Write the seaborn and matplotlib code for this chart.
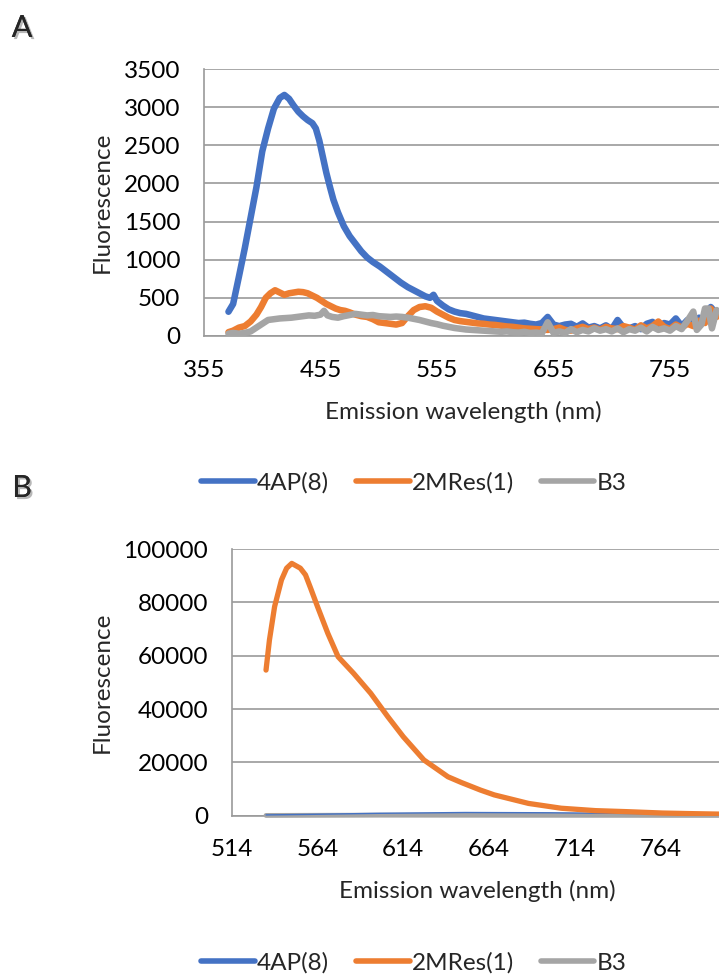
import matplotlib
matplotlib.use("Agg")
import matplotlib.pyplot as plt
import matplotlib.patheffects as pe
from matplotlib.lines import Line2D
import pandas as pd
import seaborn as sns

# ---- data ----
series_names = ["4AP(8)", "2MRes(1)", "B3"]
colors = ["#4472C4", "#ED7D31", "#A5A5A5"]

# Panel A: 4AP(8)
a_blue_x = [376, 380, 385, 390, 395, 400, 405, 410, 415, 420, 424, 428, 432, 436, 440,
            444, 448, 451, 454, 457, 460, 463, 466, 470, 475, 480, 485, 490, 495, 500,
            506, 512, 518, 524, 530, 535, 540, 545, 549, 552, 555, 560, 565, 570, 575,
            580, 585, 590, 595, 600, 605, 610, 615, 620, 625, 630, 635, 640, 645, 650,
            655, 660, 665, 670, 675, 680, 685, 690, 695, 700, 705, 710, 715, 720, 725,
            730, 735, 740, 745, 750, 755, 760, 765, 770, 775, 780, 785, 790, 795]
a_blue_y = [318, 420, 780, 1150, 1550, 1950, 2420, 2720, 2980, 3120, 3160, 3110, 3020, 2940, 2880,
            2830, 2790, 2720, 2560, 2350, 2140, 1960, 1790, 1620, 1440, 1310, 1210, 1110, 1030, 970,
            910, 840, 770, 700, 640, 600, 560, 520, 500, 540, 460, 400, 350, 320, 300,
            290, 270, 250, 230, 220, 210, 200, 190, 180, 170, 175, 160, 150, 170, 250,
            150, 130, 150, 160, 120, 165, 110, 130, 100, 140, 90, 210, 110, 100, 130,
            90, 160, 185, 110, 170, 150, 230, 130, 210, 180, 240, 200, 380, 290]

# Panel A: 2MRes(1)
a_orange_x = [376, 380, 385, 390, 395, 400, 404, 408, 412, 416, 420, 424, 428, 432, 436,
              440, 444, 448, 452, 456, 460, 464, 468, 472, 476, 480, 485, 490, 495, 500,
              505, 510, 515, 520, 525, 530, 535, 540, 545, 550, 555, 560, 565, 570, 575,
              580, 585, 590, 595, 600, 605, 610, 615, 620, 625, 630, 635, 640, 645, 650,
              655, 660, 665, 670, 675, 680, 685, 690, 695, 700, 705, 710, 715, 720, 725,
              730, 735, 740, 745, 750, 755, 760, 765, 770, 775, 780, 785, 790, 795]
a_orange_y = [50, 70, 110, 130, 190, 280, 380, 500, 560, 600, 570, 540, 560, 570, 580,
              575, 560, 530, 500, 460, 420, 390, 360, 340, 330, 310, 280, 260, 250, 220,
              180, 170, 160, 150, 170, 260, 340, 380, 390, 370, 320, 280, 240, 210, 195,
              185, 175, 165, 160, 150, 145, 135, 125, 120, 110, 100, 95, 90, 85, 80,
              90, 110, 80, 70, 100, 120, 90, 110, 80, 120, 100, 90, 130, 110, 80,
              140, 100, 130, 190, 120, 90, 150, 110, 160, 130, 200, 170, 360, 250]

# Panel A: B3
a_gray_x = [376, 380, 385, 390, 395, 400, 405, 410, 415, 420, 425, 430, 435, 440, 445,
            450, 455, 458, 461, 465, 470, 475, 480, 485, 490, 495, 500, 505, 510, 515,
            520, 525, 530, 535, 540, 545, 550, 555, 560, 565, 570, 575, 580, 585, 590,
            595, 600, 605, 610, 615, 620, 625, 630, 635, 640, 645, 650, 655, 660, 665,
            670, 675, 680, 685, 690, 695, 700, 705, 710, 715, 720, 725, 730, 735, 740,
            745, 750, 755, 760, 765, 770, 775, 778, 782, 785, 788, 791, 795]
a_gray_y = [30, 40, 30, 40, 60, 110, 160, 210, 220, 230, 235, 240, 250, 260, 270,
            265, 280, 330, 270, 250, 240, 260, 275, 290, 280, 270, 275, 260, 255, 250,
            255, 250, 240, 225, 210, 190, 170, 155, 135, 120, 105, 95, 85, 80, 75,
            70, 65, 60, 55, 60, 50, 45, 55, 40, 45, 35, 180, 40, 60, 40,
            90, 50, 80, 60, 100, 70, 90, 60, 100, 50, 90, 70, 110, 60, 120,
            80, 100, 70, 130, 90, 200, 320, 80, 150, 360, 360, 100, 340]

# Panel B: 2MRes(1)
b_orange_x = [534, 536, 539, 543, 546, 549, 554, 557, 560, 564, 570, 576, 585, 595, 605,
              614, 626, 640, 648, 659, 667, 687, 706, 726, 745, 765, 780, 798]
b_orange_y = [54600, 65900, 78400, 88400, 92800, 94600, 92800, 90300, 85300, 78400, 68400,
              59600, 53400, 45900, 37100, 29600, 20900, 14600, 12400, 9600, 7800, 4600,
              2800, 1900, 1500, 1000, 800, 600]

# Panel B: 4AP(8) and B3 (close to zero)
b_blue_x = [534, 560, 600, 650, 700, 750, 798]
b_blue_y = [300, 500, 900, 1200, 1100, 800, 600]
b_gray_x = [534, 600, 700, 798]
b_gray_y = [100, 200, 150, 100]

a_xticks = [355, 455, 555, 655, 755]
a_yticks = [0, 500, 1000, 1500, 2000, 2500, 3000, 3500]
b_xticks = [514, 564, 614, 664, 714, 764]
b_yticks = [0, 20000, 40000, 60000, 80000, 100000]

sns.set_style("white")
plt.rcParams["font.family"] = ["Lato", "DejaVu Sans"]

W, H = 719, 974
FS = 17.5
fig = plt.figure(figsize=(W / 100, H / 100), dpi=100)
grid_c = "#9a9a9a"


def make_df(xs, ys, name):
    return pd.DataFrame({"wavelength": xs, "value": ys, "series": name})


def style_axes(ax, xlim, ylim, xticks, yticks):
    ax.set_xlim(*xlim)
    ax.set_ylim(*ylim)
    ax.set_xticks(xticks)
    ax.set_yticks(yticks)
    ax.set_yticklabels([str(v) for v in yticks])
    ax.grid(axis="y", color=grid_c, linewidth=1.2)
    ax.grid(axis="x", visible=False)
    ax.set_axisbelow(True)
    for s in ["top", "right"]:
        ax.spines[s].set_visible(False)
    for s in ["left", "bottom"]:
        ax.spines[s].set_color(grid_c)
        ax.spines[s].set_linewidth(1.2)
    ax.tick_params(axis="both", direction="out", length=6, width=1.2, color=grid_c,
                   labelsize=FS, labelcolor="black", pad=11)


def labels(ax, ylab_xy, xlab_xy):
    ax.set_ylabel("Fluorescence", fontsize=FS, va="center", ha="center")
    ax.yaxis.set_label_coords(ylab_xy[0] / W, 1 - ylab_xy[1] / H, transform=fig.transFigure)
    ax.set_xlabel("Emission wavelength (nm)", fontsize=FS, va="center", ha="center")
    ax.xaxis.set_label_coords(xlab_xy[0] / W, 1 - xlab_xy[1] / H, transform=fig.transFigure)


line_kw = dict(solid_capstyle="round", solid_joinstyle="round", zorder=3)

# ---- panel A ----
axA = fig.add_axes([204 / W, 1 - 336 / H, (W - 204) / W, (336 - 69) / H])
for xs, ys, name, c in [(a_blue_x, a_blue_y, series_names[0], colors[0]),
                        (a_orange_x, a_orange_y, series_names[1], colors[1]),
                        (a_gray_x, a_gray_y, series_names[2], colors[2])]:
    sns.lineplot(data=make_df(xs, ys, name), x="wavelength", y="value", ax=axA,
                 color=c, linewidth=4.7, estimator=None, sort=False, legend=False, **line_kw)
style_axes(axA, (355, 355 + (W - 204) / 1.165), (0, 3500), a_xticks, a_yticks)
labels(axA, (102, 202), (463, 412))

# ---- panel B ----
axB = fig.add_axes([231.7 / W, 1 - 815.7 / H, (W - 231.7) / W, (815.7 - 549) / H])
sns.lineplot(data=make_df(b_gray_x, b_gray_y, series_names[2]), x="wavelength", y="value",
             ax=axB, color=colors[2], linewidth=3.5, estimator=None, legend=False,
             clip_on=False, **line_kw)
sns.lineplot(data=make_df(b_blue_x, b_blue_y, series_names[0]), x="wavelength", y="value",
             ax=axB, color=colors[0], linewidth=1.0, estimator=None, legend=False, **line_kw)
sns.lineplot(data=make_df(b_orange_x, b_orange_y, series_names[1]), x="wavelength", y="value",
             ax=axB, color=colors[1], linewidth=3.8, estimator=None, sort=False, legend=False,
             **line_kw)
style_axes(axB, (514, 514 + (W - 231.7) / 1.716), (0, 100000), b_xticks, b_yticks)
labels(axB, (102, 682), (477, 891))

# ---- legends ----
handles = [Line2D([0], [0], color=c, linewidth=4, solid_capstyle="round") for c in colors]
for yc in [483, 963]:
    fig.legend(handles, series_names, loc="center", bbox_to_anchor=(414 / W, 1 - yc / H),
               ncol=3, frameon=False, fontsize=FS, handlelength=2.2, handletextpad=0.1,
               columnspacing=1.1)

# ---- panel letters ----
shadow = [pe.withSimplePatchShadow(offset=(1.5, -1.5), shadow_rgbFace="#888888", alpha=0.6),
          pe.Normal()]
fig.text(22 / W, 1 - 28 / H, "A", fontsize=22, ha="center", va="center", path_effects=shadow)
fig.text(22 / W, 1 - 488 / H, "B", fontsize=22, ha="center", va="center", path_effects=shadow)

fig.savefig("out.png", dpi=100)
